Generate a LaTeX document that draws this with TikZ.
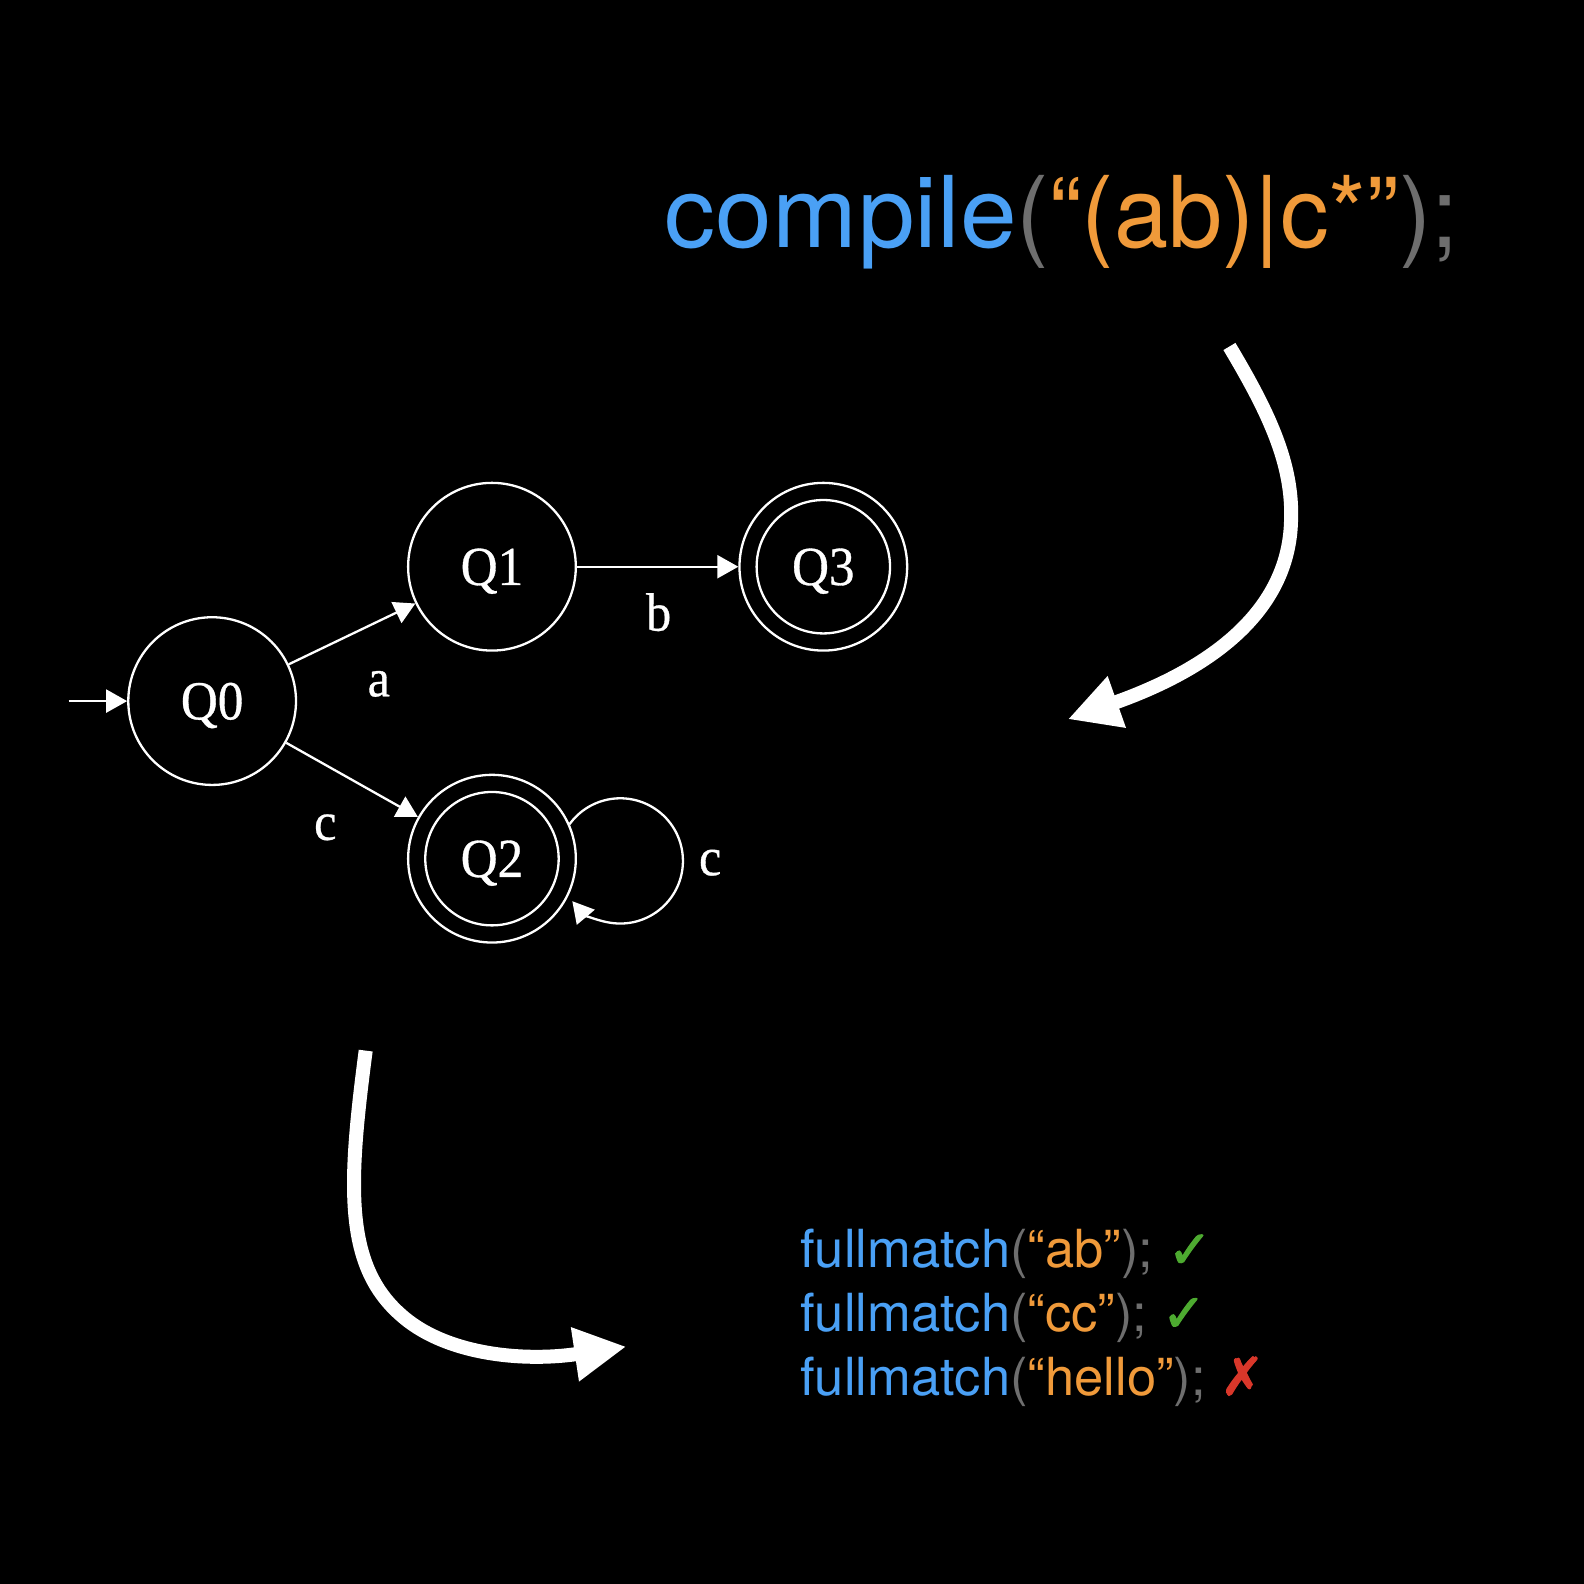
\documentclass[tikz,border=0pt]{standalone}
\usepackage{fontspec}
\setmainfont{TeX Gyre Heros}
\newfontfamily\serifdfa[FakeStretch=0.93,FakeBold=0.6]{Liberation Serif}
\newfontfamily\symfont[FakeBold=2]{DejaVu Sans}
\newfontfamily\widesans[FakeStretch=1.03]{TeX Gyre Heros}
\newfontfamily\narrowsans[FakeStretch=0.984]{TeX Gyre Heros}
\usetikzlibrary{arrows.meta}
\definecolor{codeblue}{RGB}{74,160,245}
\definecolor{codeorange}{RGB}{240,154,58}
\definecolor{codegray}{RGB}{110,110,110}
\definecolor{okgreen}{RGB}{77,170,48}
\definecolor{badred}{RGB}{217,55,42}
\begin{document}
\begin{tikzpicture}[x=1.0102pt,y=-1.0102pt,
  state/.style={circle,draw=white,line width=2.3pt,minimum size=167.7pt,inner sep=0pt,text height=36.5pt,text depth=0pt,font=\serifdfa\fontsize{55}{55}\selectfont,text=white},
  accepting/.style={path picture={\draw[white,line width=2.3pt] (path picture bounding box.center) circle[radius=66.7pt];}},
  edgearrow/.style={white,line width=2.3pt,-{Triangle[length=21pt,width=23pt]}},
  elabel/.style={text=white,inner sep=0pt,font=\serifdfa\fontsize{54}{54}\selectfont},
  bigarrow/.style={white,line width=14pt,-{Triangle[length=52pt,width=51pt]}},
  codeline/.style={anchor=base west,inner sep=0pt,font=\fontsize{52.5}{60}\selectfont},
]
\fill[black] (0,0) rectangle (1568,1568);
\useasboundingbox (0,0) rectangle (1568,1568);

% title
\node[anchor=base west,inner sep=0pt,font=\fontsize{99}{110}\selectfont] (title) at (658,245)
  {\textcolor{codeblue}{\widesans compile}{\narrowsans\textcolor{codegray}{(}\textcolor{codeorange}{“(ab)|c*”}\textcolor{codegray}{);}}};

% DFA
\node[state] (Q0) at (210,694) {Q0};
\node[state] (Q1) at (487,561) {Q1};
\node[state,accepting] (Q3) at (815,561) {Q3};
\node[state,accepting] (Q2) at (487,850) {Q2};
\coordinate (init) at (68,694);
\draw[edgearrow] (init) -- (Q0);
\draw[edgearrow] (Q0) -- (Q1);
\draw[edgearrow] (Q0) -- (Q2);
\draw[edgearrow] (Q1) -- (Q3);
\draw[edgearrow] (Q2.24) arc[start angle=-144,end angle=140,radius=62];
\node[elabel] (la) at (375,677) {a};
\node[elabel] (lb) at (652,606) {b};
\node[elabel] (lc1) at (322,819) {c};
\node[elabel] (lc2) at (703,854) {c};

% big arrows
\coordinate (a1s) at (1217,343);
\coordinate (a1e) at (1057,712);
\draw[bigarrow] (a1s) .. controls (1257,410) and (1280,460) .. (1278,515) .. controls (1276,610) and (1190,665) .. (a1e);
\coordinate (a2s) at (362,1040);
\coordinate (a2e) at (620,1333);
\draw[bigarrow] (a2s) .. controls (345,1170) and (340,1250) .. (395,1300) .. controls (440,1342) and (520,1348) .. (a2e);

% match lines
\node[codeline] (m1) at (792,1255) {\textcolor{codeblue}{fullmatch}\textcolor{codegray}{(}\textcolor{codeorange}{“ab”}\textcolor{codegray}{);} \textcolor{okgreen}{\symfont ✓}};
\node[codeline] (m2) at (792,1318) {\textcolor{codeblue}{fullmatch}\textcolor{codegray}{(}\textcolor{codeorange}{“cc”}\textcolor{codegray}{);} \textcolor{okgreen}{\symfont ✓}};
\node[codeline] (m3) at (792,1381) {\textcolor{codeblue}{fullmatch}\textcolor{codegray}{(}\textcolor{codeorange}{“hello”}\textcolor{codegray}{);} \textcolor{badred}{\symfont ✗}};
\end{tikzpicture}
\end{document}
